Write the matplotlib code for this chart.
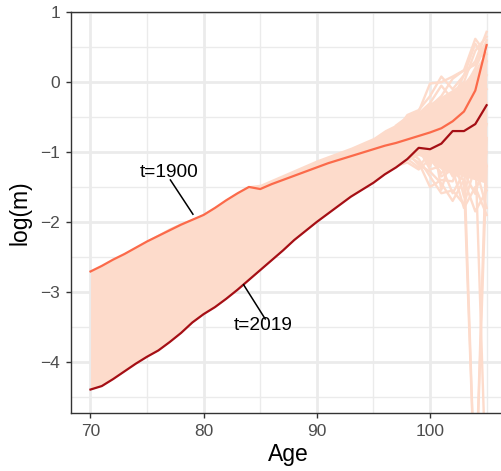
import matplotlib
matplotlib.use('Agg')
import matplotlib.pyplot as plt

plt.rcParams['font.family'] = ['Liberation Sans', 'DejaVu Sans']

# ages 70..105
ages = list(range(70, 106))

# highlighted years
m1900 = [-2.71, -2.63, -2.54, -2.46, -2.37, -2.28, -2.20, -2.12, -2.04, -1.97,
         -1.90, -1.80, -1.69, -1.59, -1.50, -1.53, -1.46, -1.40, -1.34, -1.28,
         -1.22, -1.16, -1.11, -1.06, -1.01, -0.96, -0.91, -0.87, -0.82, -0.77,
         -0.72, -0.66, -0.56, -0.42, -0.12, 0.53]
m2019 = [-4.40, -4.35, -4.25, -4.14, -4.03, -3.93, -3.84, -3.72, -3.59, -3.44,
         -3.32, -3.22, -3.10, -2.97, -2.83, -2.69, -2.55, -2.41, -2.26, -2.13,
         -2.00, -1.88, -1.76, -1.64, -1.54, -1.44, -1.32, -1.22, -1.10, -0.94,
         -0.96, -0.88, -0.70, -0.70, -0.60, -0.33]

# the other years: band covered by their lines, ages 70..105
band_top = [-2.70, -2.62, -2.53, -2.44, -2.35, -2.26, -2.17, -2.08, -2.01, -1.95,
            -1.88, -1.78, -1.67, -1.57, -1.48, -1.46, -1.39, -1.32, -1.25, -1.18,
            -1.11, -1.05, -0.99, -0.93, -0.86, -0.79, -0.68, -0.60, -0.50, -0.42,
            -0.30, -0.20, -0.10, 0.00, 0.20, 0.45]
band_low = [-4.40, -4.35, -4.25, -4.14, -4.03, -3.93, -3.84, -3.72, -3.59, -3.44,
            -3.32, -3.22, -3.10, -2.97, -2.83, -2.69, -2.55, -2.41, -2.26, -2.13,
            -2.00, -1.88, -1.76, -1.64, -1.54, -1.44, -1.32, -1.22, -1.12, -1.05,
            -1.12, -1.25, -1.30, -1.35, -1.40, -1.45]

# noisy tails of the other years, ages 97..105
tail_ages = list(range(97, 106))
tails = [
    [-0.62, -0.50, -0.42, -0.02, 0.00, 0.08, 0.17, 0.62, 0.40],
    [-0.70, -0.47, -0.40, -0.20, 0.08, -0.10, 0.10, 0.30, 0.72],
    [-0.75, -0.60, -0.50, -0.35, -0.20, 0.05, 0.17, 0.25, 0.60],
    [-0.80, -0.65, -0.55, -0.40, -0.30, -0.15, 0.00, 0.45, 0.65],
    [-0.68, -0.55, -0.45, -0.30, -0.05, -0.25, 0.10, 0.55, 0.30],
    [-1.00, -0.92, -0.80, -0.70, -0.50, -0.35, -0.10, 0.20, 0.55],
    [-1.05, -1.00, -0.90, -1.20, -0.80, -0.60, -0.50, -0.20, 0.10],
    [-0.90, -0.82, -0.72, -0.60, -0.45, -0.60, -0.25, -0.50, 0.30],
    [-0.80, -0.70, -0.60, -0.50, -0.35, -0.15, -0.45, 0.05, -0.10],
    [-1.15, -1.05, -1.00, -0.95, -0.70, -0.30, -0.60, -0.40, -1.20],
    [-1.10, -1.05, -1.15, -1.50, -1.40, -1.42, -1.00, -0.80, -0.30],
    [-0.85, -0.80, -0.60, -0.55, -1.54, -1.00, -1.64, -0.90, -1.50],
    [-1.05, -0.98, -1.10, -1.35, -1.59, -1.55, -1.75, -1.20, -1.80],
    [-0.98, -0.90, -0.95, -1.25, -1.20, -1.59, -1.30, -1.60, -1.00],
    [-1.20, -1.15, -1.25, -1.10, -1.30, -1.20, -0.80, -1.30, -0.60],
    [-1.12, -1.02, -1.18, -1.28, -1.45, -1.70, -1.40, -1.85, -1.55],
    [-0.95, -1.10, -1.22, -1.00, -1.35, -1.25, -1.80, -1.50, -1.90],
    [-1.00, -0.95, -0.85, -0.90, -1.10, -1.30, -1.40, -6.00, -0.80],
    [-0.95, -0.88, -0.75, -0.65, -0.60, -0.90, -1.20, -1.00, -6.00],
    [-1.08, -1.00, -0.98, -1.15, -1.05, -1.35, -1.10, -6.00, -1.20],
]

pale = '#FDDBCB'
fig = plt.figure(figsize=(5.02, 4.71), dpi=100)
ax = fig.add_axes([0.1408, 0.1225, 0.868, 0.8514])

ax.fill_between(ages, band_low, band_top, color=pale, lw=0, zorder=2)
for t in tails:
    ax.plot(tail_ages, t, color=pale, lw=1.7, zorder=2)

ax.plot(ages, m1900, color='#FB6A4A', lw=1.6, zorder=4)
ax.plot(ages, m2019, color='#A50F15', lw=1.6, zorder=4)

# labels with leader segments
ax.plot([77.06, 79.05], [-1.40, -1.89], color='black', lw=1.1, zorder=5)
ax.text(76.97, -1.30, 't=1900', fontsize=13.8, ha='center', va='center', zorder=6)
ax.plot([85.44, 83.53], [-3.39, -2.90], color='black', lw=1.1, zorder=5)
ax.text(85.3, -3.49, 't=2019', fontsize=13.8, ha='center', va='center', zorder=6)

ax.set_xlim(68.25, 106.75)
ax.set_ylim(-4.74, 1.0)
ax.set_xticks([70, 80, 90, 100])
ax.set_xticks([75, 85, 95, 105], minor=True)
ax.set_yticks([-4, -3, -2, -1, 0, 1])
ax.set_yticks([-4.5, -3.5, -2.5, -1.5, -0.5, 0.5], minor=True)
ax.grid(which='major', color='#EBEBEB', lw=2.0, zorder=0)
ax.grid(which='minor', color='#EBEBEB', lw=1.0, zorder=0)
ax.set_axisbelow(True)

for s in ax.spines.values():
    s.set_color('#333333')
    s.set_linewidth(1.0)
ax.tick_params(which='major', length=3.6, width=1.0, color='#333333',
               labelcolor='#4D4D4D', labelsize=12.5, pad=4)
ax.tick_params(which='minor', length=0)

ax.set_xlabel('Age', fontsize=16.5, labelpad=3)
ax.set_ylabel('log(m)', fontsize=16.5, labelpad=6)

fig.savefig('out.png', dpi=100)
